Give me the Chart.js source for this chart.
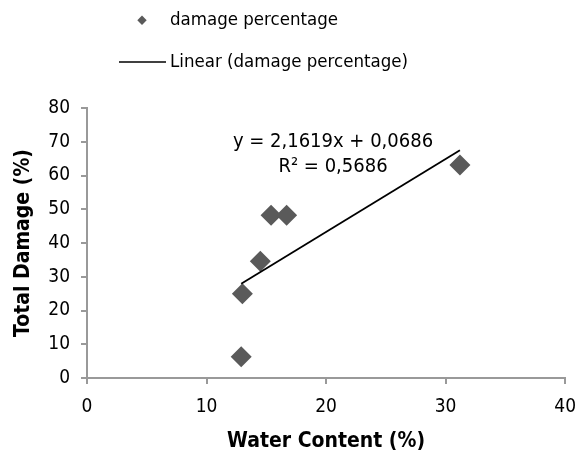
<!DOCTYPE html>
<html>
<head>
<meta charset="utf-8">
<script src="https://cdn.jsdelivr.net/npm/chart.js@4.4.1/dist/chart.umd.min.js"></script>
<style>
  html, body { margin: 0; padding: 0; background: #ffffff; }
  #wrap { width: 588px; height: 455px; position: relative; }
</style>
</head>
<body>
<div id="wrap"><canvas id="chart" width="588" height="455"></canvas></div>
<script>
// measured points (water content %, total damage %)
const waterContent = [12.9, 13.0, 14.5, 15.4, 16.7, 31.2];
const totalDamage = [6.3, 25.0, 34.6, 48.2, 48.2, 63.1];

// trendline endpoints
const trendX = [12.9, 31.2];
const trendY = [27.9, 67.5];

const xTicks = [0, 10, 20, 30, 40];
const yTicks = [0, 10, 20, 30, 40, 50, 60, 70, 80];

const equationLines = ['y = 2,1619x + 0,0686', 'R² = 0,5686'];
const legendLabels = ['damage percentage', 'Linear (damage percentage)'];

const FONT = '"DejaVu Sans Condensed", "DejaVu Sans", Verdana, sans-serif';
const POINT_COLOR = '#5a5a5a';
const AXIS_COLOR = '#999999';

// legend + equation drawn straight on the canvas
const annotations = {
  id: 'annotations',
  afterDraw(chart) {
    const ctx = chart.ctx;
    ctx.save();
    ctx.font = '18.5px ' + FONT;
    ctx.textBaseline = 'middle';
    ctx.textAlign = 'left';

    // legend row 1: diamond
    ctx.fillStyle = POINT_COLOR;
    ctx.beginPath();
    ctx.moveTo(142, 15.5);
    ctx.lineTo(146.7, 20.2);
    ctx.lineTo(142, 24.9);
    ctx.lineTo(137.3, 20.2);
    ctx.closePath();
    ctx.fill();
    ctx.fillStyle = '#000';
    ctx.fillText(legendLabels[0], 170, 20);

    // legend row 2: line
    ctx.strokeStyle = '#000';
    ctx.lineWidth = 1.5;
    ctx.beginPath();
    ctx.moveTo(119, 62);
    ctx.lineTo(166, 62);
    ctx.stroke();
    ctx.fillText(legendLabels[1], 170, 62);

    // trendline equation
    ctx.font = '20px ' + FONT;
    ctx.textAlign = 'center';
    ctx.fillText(equationLines[0], 333, 142);
    ctx.fillText(equationLines[1], 333, 167);
    ctx.restore();
  }
};

new Chart(document.getElementById('chart'), {
  type: 'scatter',
  data: {
    datasets: [
      {
        label: legendLabels[0],
        data: waterContent.map((x, i) => ({ x: x, y: totalDamage[i] })),
        pointStyle: 'rectRot',
        pointRadius: 10.5,
        pointHoverRadius: 10.5,
        backgroundColor: POINT_COLOR,
        borderColor: POINT_COLOR,
        borderWidth: 0,
        order: 2
      },
      {
        label: legendLabels[1],
        type: 'line',
        data: trendX.map((x, i) => ({ x: x, y: trendY[i] })),
        borderColor: '#000000',
        borderWidth: 1.8,
        pointRadius: 0,
        fill: false,
        order: 1
      }
    ]
  },
  options: {
    responsive: false,
    animation: false,
    layout: {
      padding: { top: 108, right: 22, left: 0, bottom: 0 }
    },
    plugins: {
      legend: { display: false },
      tooltip: { enabled: false }
    },
    scales: {
      x: {
        type: 'linear',
        min: 0,
        max: 40,
        afterBuildTicks: axis => { axis.ticks = xTicks.map(v => ({ value: v })); },
        afterFit: axis => { axis.height = 77; },
        border: { color: AXIS_COLOR, width: 2 },
        grid: { drawOnChartArea: false, drawTicks: true, tickLength: 6, color: AXIS_COLOR, lineWidth: 2 },
        ticks: { color: '#000', font: { family: FONT, size: 19 }, padding: 12 },
        title: {
          display: true,
          text: 'Water Content (%)',
          color: '#000',
          font: { family: FONT, size: 21, weight: 'bold' },
          padding: { top: 3, bottom: 1 }
        }
      },
      y: {
        min: 0,
        max: 80,
        afterBuildTicks: axis => { axis.ticks = yTicks.map(v => ({ value: v })); },
        afterFit: axis => { axis.width = 87; },
        border: { color: AXIS_COLOR, width: 2 },
        grid: { drawOnChartArea: false, drawTicks: true, tickLength: 6, color: AXIS_COLOR, lineWidth: 2 },
        ticks: { color: '#000', font: { family: FONT, size: 19 }, padding: 11 },
        title: {
          display: true,
          text: 'Total Damage (%)',
          color: '#000',
          font: { family: FONT, size: 21, weight: 'bold' },
          padding: { top: 11, bottom: 4 }
        }
      }
    }
  },
  plugins: [annotations]
});
</script>
</body>
</html>
